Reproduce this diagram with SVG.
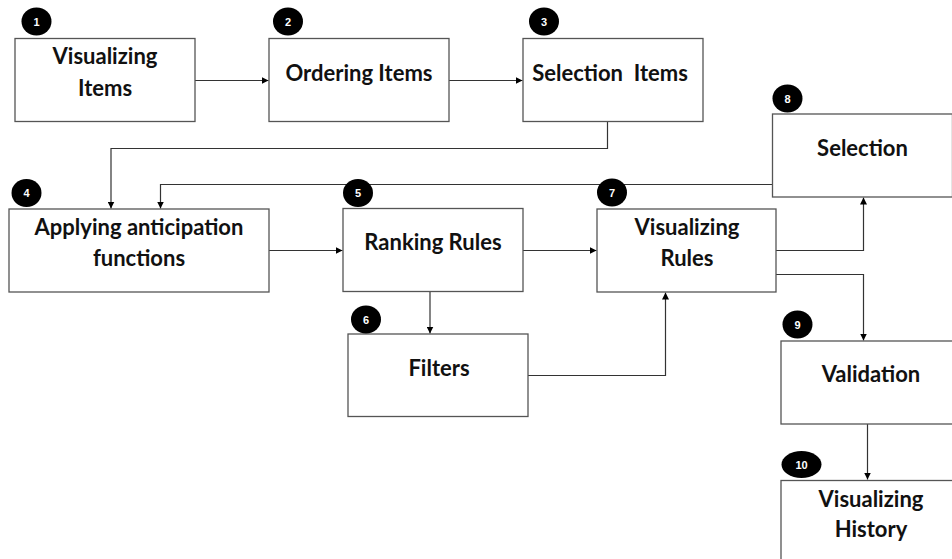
<svg xmlns="http://www.w3.org/2000/svg" width="952" height="559" viewBox="0 0 952 559">
<style>
.box{fill:#fff;stroke:#555;stroke-width:1.3}
.lbl{font-family:Lato,"Open Sans",sans-serif;font-weight:bold;font-size:22px;fill:#111;text-anchor:middle}
.badge{fill:#000}
.num{font-family:"Liberation Sans",Arial,sans-serif;font-weight:bold;font-size:11px;fill:#fff;text-anchor:middle}
.conn{fill:none;stroke:#333;stroke-width:1.2}
</style>
<defs>
<marker id="arr" viewBox="0 0 10 10" refX="10" refY="5" markerWidth="7" markerHeight="7" markerUnits="userSpaceOnUse" orient="auto">
<path d="M0,0 L10,5 L0,10 z" fill="#000"/>
</marker>
</defs>
<rect width="952" height="559" fill="#fff"/>
<g id="connectors">
<path class="conn" d="M195,80.5 H268.5" marker-end="url(#arr)"/>
<path class="conn" d="M449,80.5 H522.5" marker-end="url(#arr)"/>
<path class="conn" d="M607.5,121 V148.5 H111 V208.5" marker-end="url(#arr)"/>
<path class="conn" d="M772,184.5 H160.5 V208.5" marker-end="url(#arr)"/>
<path class="conn" d="M269,250.5 H342.5" marker-end="url(#arr)"/>
<path class="conn" d="M523,250.5 H596.5" marker-end="url(#arr)"/>
<path class="conn" d="M776,250.5 H863.5 V197.5" marker-end="url(#arr)"/>
<path class="conn" d="M776,274.5 H863.5 V340.5" marker-end="url(#arr)"/>
<path class="conn" d="M430,291 V333.5" marker-end="url(#arr)"/>
<path class="conn" d="M528,375.5 H665.5 V292.5" marker-end="url(#arr)"/>
<path class="conn" d="M867.5,424 V479.5" marker-end="url(#arr)"/>
</g>
<g id="n1">
<rect class="box" x="15" y="38.5" width="180" height="83"/>
<text class="lbl" x="105" y="64">Visualizing</text>
<text class="lbl" x="105" y="95.5">Items</text>
<ellipse class="badge" cx="36.5" cy="21.5" rx="15" ry="14"/>
<text class="num" x="36.5" y="25.5">1</text>
</g>
<g id="n2">
<rect class="box" x="269" y="38.5" width="180" height="83"/>
<text class="lbl" x="359" y="80.5">Ordering Items</text>
<ellipse class="badge" cx="288" cy="21.5" rx="15" ry="14"/>
<text class="num" x="288" y="25.5">2</text>
</g>
<g id="n3">
<rect class="box" x="523" y="38.5" width="180" height="83"/>
<text class="lbl" x="610" y="80.5" xml:space="preserve">Selection  Items</text>
<ellipse class="badge" cx="544" cy="21.5" rx="15" ry="14"/>
<text class="num" x="544" y="25.5">3</text>
</g>
<g id="n4">
<rect class="box" x="9" y="209" width="260" height="83"/>
<text class="lbl" x="139" y="235">Applying anticipation</text>
<text class="lbl" x="139" y="265.5">functions</text>
<ellipse class="badge" cx="26.5" cy="193" rx="15" ry="14"/>
<text class="num" x="26.5" y="197">4</text>
</g>
<g id="n5">
<rect class="box" x="343" y="208.5" width="180" height="83"/>
<text class="lbl" x="433" y="250">Ranking Rules</text>
<ellipse class="badge" cx="358" cy="193" rx="15" ry="14"/>
<text class="num" x="358" y="197">5</text>
</g>
<g id="n6">
<rect class="box" x="348" y="334" width="180" height="82.5"/>
<text class="lbl" x="439" y="376">Filters</text>
<ellipse class="badge" cx="366" cy="319.5" rx="15" ry="14"/>
<text class="num" x="366" y="323.5">6</text>
</g>
<g id="n7">
<rect class="box" x="597" y="209" width="179" height="83"/>
<text class="lbl" x="687" y="235">Visualizing</text>
<text class="lbl" x="687" y="265.5">Rules</text>
<ellipse class="badge" cx="612" cy="192.5" rx="15" ry="14"/>
<text class="num" x="612" y="196.5">7</text>
</g>
<g id="n8">
<rect class="box" x="772.5" y="114" width="180" height="83"/>
<text class="lbl" x="862.5" y="155.5">Selection</text>
<ellipse class="badge" cx="787.5" cy="98.5" rx="15" ry="14"/>
<text class="num" x="787.5" y="102.5">8</text>
</g>
<g id="n9">
<rect class="box" x="781" y="341" width="180" height="83"/>
<text class="lbl" x="871" y="381.5">Validation</text>
<ellipse class="badge" cx="797.5" cy="324.5" rx="15" ry="14"/>
<text class="num" x="797.5" y="328.5">9</text>
</g>
<g id="n10">
<rect class="box" x="781" y="480.5" width="180" height="83"/>
<text class="lbl" x="871" y="506.5">Visualizing</text>
<text class="lbl" x="871" y="536.5">History</text>
<ellipse class="badge" cx="801.5" cy="464.5" rx="20" ry="13.5"/>
<text class="num" x="801.5" y="468.5">10</text>
</g>
</svg>
